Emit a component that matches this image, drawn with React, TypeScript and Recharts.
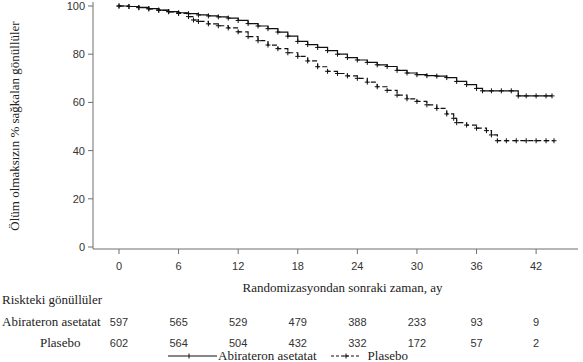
import { LineChart, Line, XAxis, YAxis } from "recharts";

// Kaplan-Meier estimates (months, % surviving)
const abiMonths = [0, 1, 2, 3, 4, 5, 6, 7, 8, 9, 10, 11, 12, 13, 14, 15, 16, 17, 18, 19, 20, 21, 22, 23, 24, 25, 26, 27, 28, 29, 30, 31, 32, 33, 34, 35, 36, 36.6, 37.5, 38.5, 39.5, 40.2, 41, 42, 43, 43.6];
const abiSurvival = [100, 99.8, 99.4, 98.9, 98.3, 97.7, 97.2, 96.8, 96.3, 95.9, 95.5, 95, 94, 92.7, 91.7, 90.6, 89.2, 87.5, 85.3, 84, 82.8, 81.5, 80, 78.6, 77.6, 76.6, 75.6, 74.9, 73.3, 72.2, 71.5, 71.1, 70.9, 70.3, 68.7, 67.4, 65.8, 64.8, 64.8, 64.8, 64.8, 62.7, 62.7, 62.7, 62.7, 62.7];

const plaMonths = [0, 1, 2, 3, 4, 5, 6, 7, 7.5, 8, 9, 10, 11, 12, 13, 14, 15, 16, 17, 18, 19, 20, 21, 22, 23, 24, 25, 26, 27, 28, 29, 30, 31, 32, 33, 33.7, 34, 35, 36, 37, 37.5, 38.1, 39, 40, 41, 42, 43, 43.8];
const plaSurvival = [100, 99.8, 99.3, 98.8, 98.2, 97.6, 96.9, 95.6, 94.2, 93.6, 92.6, 91.8, 90.9, 89.3, 87.3, 85.6, 83.8, 82.3, 80.6, 79.1, 77.2, 74.8, 72.9, 72, 71, 70, 68.4, 66.5, 65, 63, 61.5, 60.4, 59, 57.5, 55.2, 53.4, 51.6, 50.6, 49.3, 48.3, 46.5, 44.1, 44.1, 44.1, 44.1, 44.1, 44.1, 44.1];

const monthTicks = [0, 6, 12, 18, 24, 30, 36, 42];
const survivalTicks = [0, 20, 40, 60, 80, 100];
const abiAtRisk = [597, 565, 529, 479, 388, 233, 93, 9];
const plaAtRisk = [602, 564, 504, 432, 332, 172, 57, 2];

const abiData = abiMonths.map((t, i) => ({ t, s: abiSurvival[i] }));
const plaData = plaMonths.map((t, i) => ({ t, s: plaSurvival[i] }));

const SANS = '"Liberation Sans", Arial, sans-serif';
const SERIF = '"Liberation Serif", "Times New Roman", serif';
const AXIS = "#6e6e6e";
const INK = "#111";
const tickFont = { fontFamily: SANS, fontSize: 11, fill: "#333" };

// month label plus the two at-risk rows underneath, aligned on the axis scale
function MonthTick(props: any) {
  const { x, y, payload } = props;
  const i = monthTicks.indexOf(payload.value);
  return (
    <g>
      <text x={x} y={y} dy="0.71em" textAnchor="middle" {...tickFont}>
        {payload.value}
      </text>
      <text x={x} y={y + 56} dy="0.71em" textAnchor="middle" {...tickFont}>
        {i >= 0 ? abiAtRisk[i] : ""}
      </text>
      <text x={x} y={y + 77} dy="0.71em" textAnchor="middle" {...tickFont}>
        {i >= 0 ? plaAtRisk[i] : ""}
      </text>
    </g>
  );
}

function renderCross(p: any) {
  const { cx, cy, index } = p;
  if (cx == null || cy == null) return <g key={`n-${index}`} />;
  return (
    <path
      key={`c-${index}`}
      d={`M${cx - 2.5},${cy}H${cx + 2.5}M${cx},${cy - 2.5}V${cy + 2.5}`}
      stroke={INK}
      strokeWidth={1}
      fill="none"
    />
  );
}

const serifText = { position: "absolute" as const, fontFamily: SERIF, fontSize: 13, color: "#222", whiteSpace: "nowrap" as const, lineHeight: "16px" };

export default function App() {
  return (
    <div style={{ position: "fixed", left: 0, top: 0, width: 583, height: 362, background: "#fff", overflow: "hidden" }}>
      <LineChart width={583} height={362} margin={{ top: 2, right: 5, left: 33, bottom: 68 }}>
        <XAxis
          dataKey="t"
          type="number"
          domain={[0, 42]}
          ticks={monthTicks}
          padding={{ left: 26, right: 24 }}
          height={45}
          stroke={AXIS}
          tickSize={5}
          tickMargin={8}
          tick={<MonthTick />}
          label={{ value: "Randomizasyondan sonraki zaman, ay", position: "insideBottom", offset: 2, dx: 7, style: { fontFamily: SERIF, fontSize: 13, fill: "#222" } }}
        />
        <XAxis xAxisId="top" orientation="top" type="number" domain={[0, 42]} height={0} tick={false} tickLine={false} stroke={AXIS} />
        <YAxis
          type="number"
          domain={[0, 100]}
          ticks={survivalTicks}
          padding={{ top: 4, bottom: 2 }}
          width={60}
          stroke={AXIS}
          tickSize={5}
          tickMargin={3}
          tick={tickFont}
        />
        <YAxis yAxisId="right" orientation="right" type="number" domain={[0, 100]} width={0} tick={false} tickLine={false} stroke={AXIS} />
        <Line
          data={abiData}
          dataKey="s"
          type="stepAfter"
          stroke={INK}
          strokeWidth={1.2}
          dot={renderCross}
          activeDot={false}
          isAnimationActive={false}
        />
        <Line
          data={plaData}
          dataKey="s"
          type="stepAfter"
          stroke={INK}
          strokeWidth={1.2}
          strokeDasharray="5 3"
          dot={renderCross}
          activeDot={false}
          isAnimationActive={false}
        />
      </LineChart>

      <div style={{ ...serifText, left: -105, top: 118, width: 240, textAlign: "center", transform: "rotate(-90deg)" }}>
        Ölüm olmaksızın % sağkalan gönüllüler
      </div>
      <div style={{ ...serifText, left: 2, top: 292 }}>Riskteki gönüllüler</div>
      <div style={{ ...serifText, left: 2, top: 314 }}>Abirateron asetatat</div>
      <div style={{ ...serifText, left: 40, top: 335 }}>Plasebo</div>

      <div style={{ position: "absolute", left: 168, top: 349, display: "flex", alignItems: "center", fontFamily: SERIF, fontSize: 13, color: "#222", whiteSpace: "nowrap", lineHeight: "14px" }}>
        <svg width={50} height={14}>
          <line x1={0} y1={7} x2={49} y2={7} stroke={INK} strokeWidth={1.1} />
          <path d="M21,4.5V9.5" stroke={INK} strokeWidth={1} />
        </svg>
        <span>Abirateron asetatat</span>
        <svg width={30} height={14} style={{ marginLeft: 14 }}>
          <line x1={0} y1={7} x2={28} y2={7} stroke={INK} strokeWidth={1.1} strokeDasharray="3 2" />
          <path d="M15,4.5V9.5M12.5,7H17.5" stroke={INK} strokeWidth={1} />
        </svg>
        <span style={{ marginLeft: 7 }}>Plasebo</span>
      </div>
    </div>
  );
}
